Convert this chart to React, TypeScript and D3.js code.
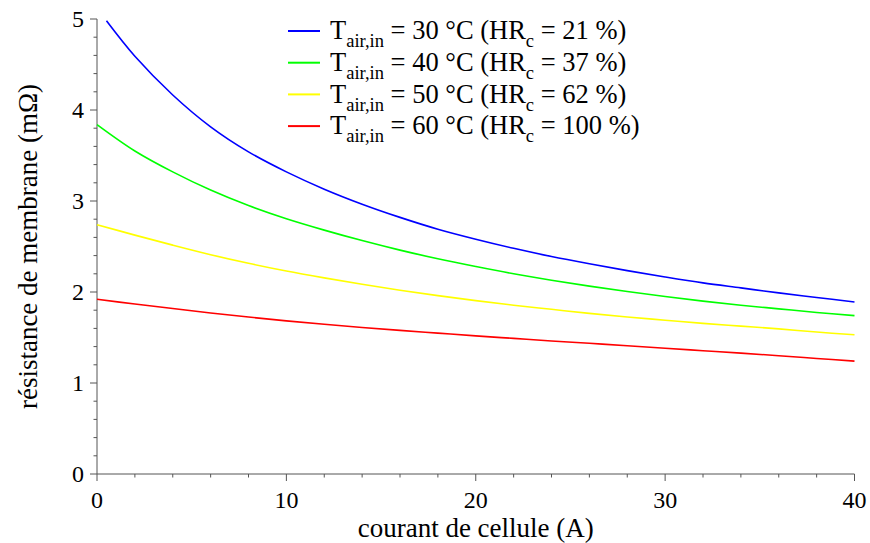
import React from "react";
import * as d3 from "d3";

const xsBlue = [0.5, 2, 4, 6, 8, 10, 12, 14, 16, 18, 20, 22, 24, 26, 28, 30, 32, 34, 36, 38, 40];
const blue = [4.98, 4.59, 4.165, 3.815, 3.54, 3.32, 3.13, 2.965, 2.82, 2.69, 2.58, 2.48, 2.39, 2.31, 2.235, 2.165, 2.10, 2.045, 1.99, 1.94, 1.89];
const xs = [0, 2, 4, 6, 8, 10, 12, 14, 16, 18, 20, 22, 24, 26, 28, 30, 32, 34, 36, 38, 40];
const green = [3.84, 3.55, 3.32, 3.12, 2.95, 2.805, 2.68, 2.565, 2.46, 2.365, 2.28, 2.20, 2.13, 2.065, 2.005, 1.95, 1.90, 1.855, 1.815, 1.775, 1.74];
const yellow = [2.74, 2.625, 2.515, 2.41, 2.315, 2.23, 2.155, 2.085, 2.02, 1.96, 1.905, 1.855, 1.81, 1.765, 1.725, 1.69, 1.655, 1.625, 1.595, 1.56, 1.53];
const red = [1.92, 1.868, 1.818, 1.77, 1.725, 1.683, 1.645, 1.61, 1.578, 1.548, 1.518, 1.49, 1.462, 1.436, 1.41, 1.382, 1.355, 1.328, 1.30, 1.27, 1.24];

const seriesTemps = ["30", "40", "50", "60"];
const seriesHR = ["21", "37", "62", "100"];
const seriesColors = ["#0000ff", "#00ff00", "#ffff00", "#ff0000"];

const xTicks = [0, 10, 20, 30, 40];
const yTicks = [0, 1, 2, 3, 4, 5];

const W = 870, H = 543;
const left = 97, right = 854.5, top = 19, bottom = 474;
const font = "'Liberation Serif', 'Times New Roman', Times, serif";

export default function App() {
  const x = d3.scaleLinear().domain([0, 40]).range([left, right]);
  const y = d3.scaleLinear().domain([0, 5]).range([bottom, top]);
  const line = d3.line<[number, number]>().x(d => x(d[0])).y(d => y(d[1])).curve(d3.curveCatmullRom.alpha(0.5));
  const data: [number, number][][] = [
    xsBlue.map((v, i) => [v, blue[i]] as [number, number]),
    xs.map((v, i) => [v, green[i]] as [number, number]),
    xs.map((v, i) => [v, yellow[i]] as [number, number]),
    xs.map((v, i) => [v, red[i]] as [number, number]),
  ];
  const xMinor = d3.range(0, 40.001, 2);
  const yMinor = d3.range(0, 5.001, 0.2);
  const axisColor = "#555";
  return (
    <svg width={W} height={H} style={{ position: "absolute", left: 0, top: 0, background: "#fff" }} fontFamily={font}>
      <line x1={left} x2={left} y1={top} y2={bottom} stroke={axisColor} strokeWidth={1} />
      <line x1={left} x2={right} y1={bottom} y2={bottom} stroke={axisColor} strokeWidth={1} />
      {yMinor.map((t, i) => (
        <line key={"ym" + i} x1={left - (i % 5 === 0 ? 7 : 3.5)} x2={left} y1={y(t)} y2={y(t)} stroke={axisColor} />
      ))}
      {xMinor.map((t, i) => (
        <line key={"xm" + i} x1={x(t)} x2={x(t)} y1={bottom} y2={bottom + (i % 5 === 0 ? 7 : 3.5)} stroke={axisColor} />
      ))}
      {yTicks.map(t => (
        <text key={"yt" + t} x={84} y={y(t) + 8} textAnchor="end" fontSize={24} fill="#000">{t}</text>
      ))}
      {xTicks.map(t => (
        <text key={"xt" + t} x={x(t)} y={508} textAnchor="middle" fontSize={24} fill="#000">{t}</text>
      ))}
      <text x={(left + right) / 2} y={537} textAnchor="middle" fontSize={27} fill="#000">courant de cellule (A)</text>
      <text transform={`translate(37,${(top + bottom) / 2}) rotate(-90)`} textAnchor="middle" fontSize={27} fill="#000">résistance de membrane (mΩ)</text>
      {data.map((d, i) => (
        <path key={"s" + i} d={line(d) || ""} fill="none" stroke={seriesColors[i]} strokeWidth={1.6} />
      ))}
      {seriesTemps.map((t, i) => {
        const ly = 31 + i * 31.7;
        return (
          <g key={"lg" + i}>
            <line x1={288} x2={320} y1={ly} y2={ly} stroke={seriesColors[i]} strokeWidth={2} />
            <text x={330} y={ly + 8.3} fontSize={26.5} fill="#000">
              T<tspan fontSize={18.5} dy={8}>air,in</tspan>
              <tspan dy={-8}>{` = ${t} °C (HR`}</tspan>
              <tspan fontSize={18.5} dy={8}>c</tspan>
              <tspan dy={-8}>{` = ${seriesHR[i]} %)`}</tspan>
            </text>
          </g>
        );
      })}
    </svg>
  );
}
